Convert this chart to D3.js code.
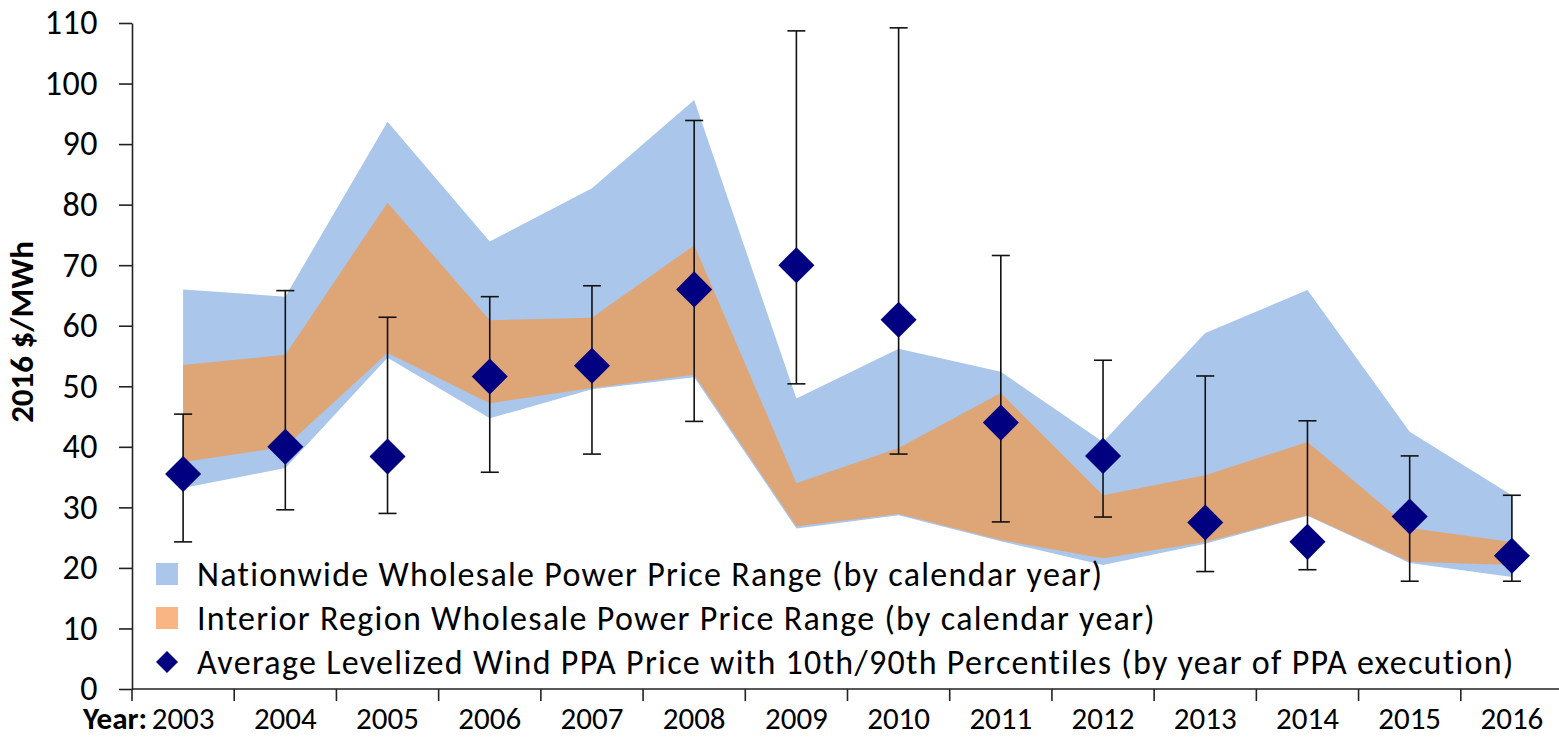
<!DOCTYPE html>
<html lang="en">
<head>
  <meta charset="UTF-8">
  <script src="https://d3js.org/d3.v7.min.js"></script>
  <title>Wind PPA Price vs Wholesale Power Price</title>
  <style>
  body { margin: 0; background: #fff; }
  svg { display: block; }
  text { font-family: Carlito, Lato, "Open Sans", sans-serif; fill: #000; }
  .yAxis .tick text { font-size: 34px; letter-spacing: 0.5px; }
  .xAxis text { font-size: 31px; }
  .legend text { font-size: 34px; letter-spacing: 1.3px; }
  .ytitle { font-size: 33px; font-weight: bold; }
  </style>
</head>
<body>
<svg id="chart" width="1559" height="737"></svg>
<script>
  // values, $/MWh (2016 dollars)
  const years = ["2003","2004","2005","2006","2007","2008","2009","2010","2011","2012","2013","2014","2015","2016"];
  const nationHigh = [66, 64.8, 93.7, 73.9, 82.7, 97.3, 48, 56.2, 52.4, 40.8, 58.8, 65.9, 42.5, 32];
  const nationLow  = [33.2, 36.5, 54.7, 44.7, 49.5, 51.5, 26.5, 28.7, 24.4, 20.5, 24, 28.6, 20.8, 18.5];
  const interiorHigh = [53.5, 55.2, 80.3, 60.9, 61.3, 73.3, 34, 39.8, 48.9, 32, 35.3, 40.8, 26.6, 24.3];
  const interiorLow  = [37.5, 40, 55.5, 47.2, 49.7, 51.9, 26.9, 28.9, 24.6, 21.6, 24.3, 28.7, 21, 20.5];
  const ppaAvg = [35.5, 40, 38.4, 51.6, 53.4, 66, 70, 61, 44, 38.5, 27.5, 24.3, 28.5, 22];
  const ppaP90 = [45.4, 65.8, 61.4, 64.8, 66.6, 93.9, 108.7, 109.2, 71.6, 54.3, 51.7, 44.3, 38.5, 32];
  const ppaP10 = [24.3, 29.6, 29, 35.8, 38.8, 44.2, 50.4, 38.8, 27.6, 28.4, 19.4, 19.7, 17.8, 17.8];
  const yTicks = [0, 10, 20, 30, 40, 50, 60, 70, 80, 90, 100, 110];
  const legendLabels = [
    "Nationwide Wholesale Power Price Range (by calendar year)",
    "Interior Region Wholesale Power Price Range (by calendar year)",
    "Average Levelized Wind PPA Price with 10th/90th Percentiles (by year of PPA execution)"
  ];

  const blue = "#aac6ea";
  const orange = "#dea577";
  const orangeKey = "#f9b583";
  const navy = "#000080";

  const svg = d3.select("svg#chart");
  const margin = {top: 23, left: 132, bottom: 48};
  const plotRight = 1563;
  const plotBottom = 689;

  const data = years.map((yr, i) => ({
    year: yr,
    nHi: nationHigh[i], nLo: nationLow[i],
    iHi: interiorHigh[i], iLo: interiorLow[i],
    avg: ppaAvg[i], hi: ppaP90[i], lo: ppaP10[i]
  }));

  const x = d3.scaleBand().domain(years).range([margin.left, plotRight]).padding(0);
  const y = d3.scaleLinear().domain([0, 110]).range([plotBottom, margin.top]);
  const cx = d => x(d.year) + x.bandwidth() / 2;

  // shaded ranges
  const nationArea = d3.area().x(cx).y0(d => y(d.nLo)).y1(d => y(d.nHi));
  const interiorArea = d3.area().x(cx).y0(d => y(d.iLo)).y1(d => y(d.iHi));

  svg.append("path").datum(data).attr("d", nationArea).attr("fill", blue);
  svg.append("path").datum(data).attr("d", interiorArea).attr("fill", orange);

  // error bars
  const bars = svg.append("g").attr("class", "errorbars")
      .attr("stroke", "#111").attr("stroke-width", 1.6);
  bars.selectAll("line.stem").data(data).join("line")
      .attr("class", "stem")
      .attr("x1", cx).attr("x2", cx)
      .attr("y1", d => y(d.hi)).attr("y2", d => y(d.lo));
  bars.selectAll("line.capHi").data(data).join("line")
      .attr("class", "capHi")
      .attr("x1", d => cx(d) - 9).attr("x2", d => cx(d) + 9)
      .attr("y1", d => y(d.hi)).attr("y2", d => y(d.hi));
  bars.selectAll("line.capLo").data(data).join("line")
      .attr("class", "capLo")
      .attr("x1", d => cx(d) - 9).attr("x2", d => cx(d) + 9)
      .attr("y1", d => y(d.lo)).attr("y2", d => y(d.lo));

  // diamonds
  const diamond = d3.symbol().type(d3.symbolSquare).size(650);
  svg.append("g").selectAll("path").data(data).join("path")
      .attr("d", diamond)
      .attr("fill", navy)
      .attr("transform", d => `translate(${cx(d)},${y(d.avg)}) rotate(45)`);

  // y axis
  const yAxis = d3.axisLeft(y).tickValues(yTicks).tickSize(13).tickSizeOuter(0).tickPadding(21);
  const yAxisG = svg.append("g").attr("class", "yAxis")
      .attr("transform", `translate(${margin.left},0)`)
      .call(yAxis);
  yAxisG.selectAll("line, path").attr("stroke", "#222").attr("stroke-width", 1.6);

  // x axis: line with ticks at the band edges, labels at band centers
  const xAxisG = svg.append("g").attr("class", "xAxis");
  xAxisG.append("line")
      .attr("x1", margin.left).attr("x2", plotRight)
      .attr("y1", plotBottom).attr("y2", plotBottom)
      .attr("stroke", "#222").attr("stroke-width", 1.6);
  const edges = years.map(yr => x(yr)).concat([plotRight]);
  xAxisG.selectAll("line.edge").data(edges).join("line")
      .attr("class", "edge")
      .attr("x1", d => d).attr("x2", d => d)
      .attr("y1", plotBottom).attr("y2", plotBottom + 12)
      .attr("stroke", "#222").attr("stroke-width", 1.6);
  xAxisG.selectAll("text.year").data(years).join("text")
      .attr("class", "year")
      .attr("x", d => x(d) + x.bandwidth() / 2)
      .attr("y", 729)
      .attr("text-anchor", "middle")
      .text(d => d);
  xAxisG.append("text")
      .attr("x", x(years[0]) + x.bandwidth() / 2 - 36)
      .attr("y", 729)
      .attr("text-anchor", "end")
      .attr("font-weight", "bold")
      .text("Year:");

  // y title
  svg.append("text").attr("class", "ytitle")
      .attr("transform", "translate(33,332) rotate(-90)")
      .attr("text-anchor", "middle")
      .text("2016 $/MWh");

  // legend
  const legend = svg.append("g").attr("class", "legend");
  const rowY = [574, 618, 662];
  legend.append("rect").attr("x", 156).attr("y", rowY[0] - 11).attr("width", 22).attr("height", 22).attr("fill", blue);
  legend.append("rect").attr("x", 156).attr("y", rowY[1] - 11).attr("width", 22).attr("height", 22).attr("fill", orangeKey);
  legend.append("path")
      .attr("d", d3.symbol().type(d3.symbolSquare).size(242)())
      .attr("fill", navy)
      .attr("transform", `translate(167,${rowY[2]}) rotate(45)`);
  legend.selectAll("text").data(legendLabels).join("text")
      .attr("x", 197)
      .attr("y", (d, i) => rowY[i] + 12)
      .text(d => d);
</script>
</body>
</html>
